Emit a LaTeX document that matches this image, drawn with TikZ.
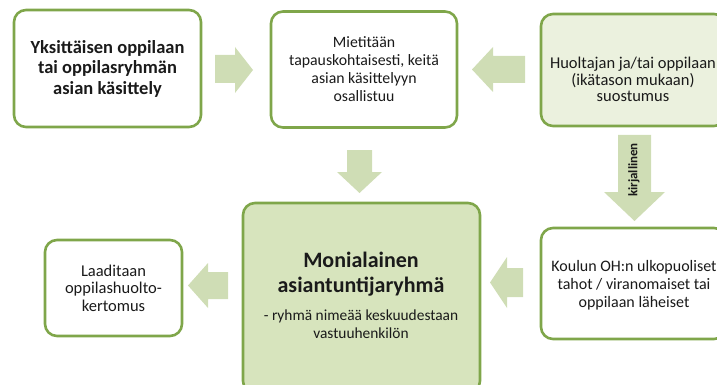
\documentclass[tikz,border=0pt]{standalone}
\usepackage{fontspec}
\setmainfont{Carlito}
\definecolor{gborder}{HTML}{7FA64A}
\definecolor{gfill}{HTML}{D7E4BD}
\definecolor{glight}{HTML}{EBF1DE}
\definecolor{garrow}{HTML}{CFDDB5}
\definecolor{txt}{HTML}{1A1A1A}
\begin{document}
\begin{tikzpicture}[x=1pt,y=-1pt,
  box/.style={draw=gborder, line width=2.6pt, rounded corners=12pt, align=center, inner sep=0pt, text=txt},
  normtext/.style={align=center, text=txt},
  blockarrow/.style={fill=garrow, draw=none}]
\useasboundingbox (0,0) rectangle (717,385);
\clip (0,0) rectangle (717,385);
% boxes
\node[box, fill=white, minimum width=187pt, minimum height=117pt,
  font=\fontsize{18.5}{20.5}\selectfont\bfseries] (b1) at (107.5,68.5)
  {Yksittäisen oppilaan\\tai oppilasryhmän\\asian käsittely};
\node[box, fill=white, minimum width=186pt, minimum height=116pt, normtext,
  font=\fontsize{15.8}{18}\selectfont] (b2) at (364,69.5)
  {Mietitään\\tapauskohtaisesti, keitä\\asian käsittelyyn\\osallistuu};
\node[box, fill=glight, minimum width=185pt, minimum height=112pt] (b3) at (633.5,70) {};
\node[normtext, font=\fontsize{16.5}{16.5}\selectfont] (t3) at (633,79.5)
  {Huoltajan ja/tai oppilaan\\(ikätason mukaan)\\suostumus};
\node[box, fill=gfill, minimum width=237pt, minimum height=190pt] (b4) at (361.5,298) {};
\node[font=\fontsize{22}{25}\selectfont\bfseries, align=center, text=txt] (t4a) at (361,274)
  {Monialainen\\asiantuntijaryhmä};
\node[normtext, font=\fontsize{15.4}{18}\selectfont] (t4b) at (361,324)
  {- ryhmä nimeää keskuudestaan\\vastuuhenkilön};
\node[box, fill=white, minimum width=137pt, minimum height=96pt, normtext,
  font=\fontsize{16.5}{17.5}\selectfont] (b5) at (113.5,288)
  {Laaditaan\\oppilashuolto-\\kertomus};
\node[box, fill=white, minimum width=185pt, minimum height=111pt] (b6) at (633.5,283.5) {};
\node[normtext, font=\fontsize{16}{18}\selectfont] (t6) at (634,285)
  {Koulun OH:n ulkopuoliset\\tahot / viranomaiset tai\\oppilaan läheiset};
% block arrows
\fill[blockarrow] (215,55) -- (235,55) -- (235,47) -- (253,70) -- (235,93) -- (235,83) -- (215,83) -- cycle;
\fill[blockarrow] (525,56) -- (493,56) -- (493,47) -- (472,69.5) -- (493,92) -- (493,83) -- (525,83) -- cycle;
\fill[blockarrow] (347,150) -- (372,150) -- (372,172) -- (382,172) -- (359.5,193) -- (337,172) -- (347,172) -- cycle;
\fill[blockarrow] (618,135) -- (651,135) -- (651,192) -- (665,192) -- (634.5,221) -- (604,192) -- (618,192) -- cycle;
\node[rotate=90, font=\fontsize{13}{14}\selectfont\bfseries, text=txt] (lab) at (634,170) {kirjallinen};
\fill[blockarrow] (523,268) -- (507,268) -- (507,257) -- (490,282.5) -- (507,308) -- (507,297) -- (523,297) -- cycle;
\fill[blockarrow] (228,272) -- (208,272) -- (208,263) -- (188,285.5) -- (208,308) -- (208,299) -- (228,299) -- cycle;
\end{tikzpicture}
\end{document}
